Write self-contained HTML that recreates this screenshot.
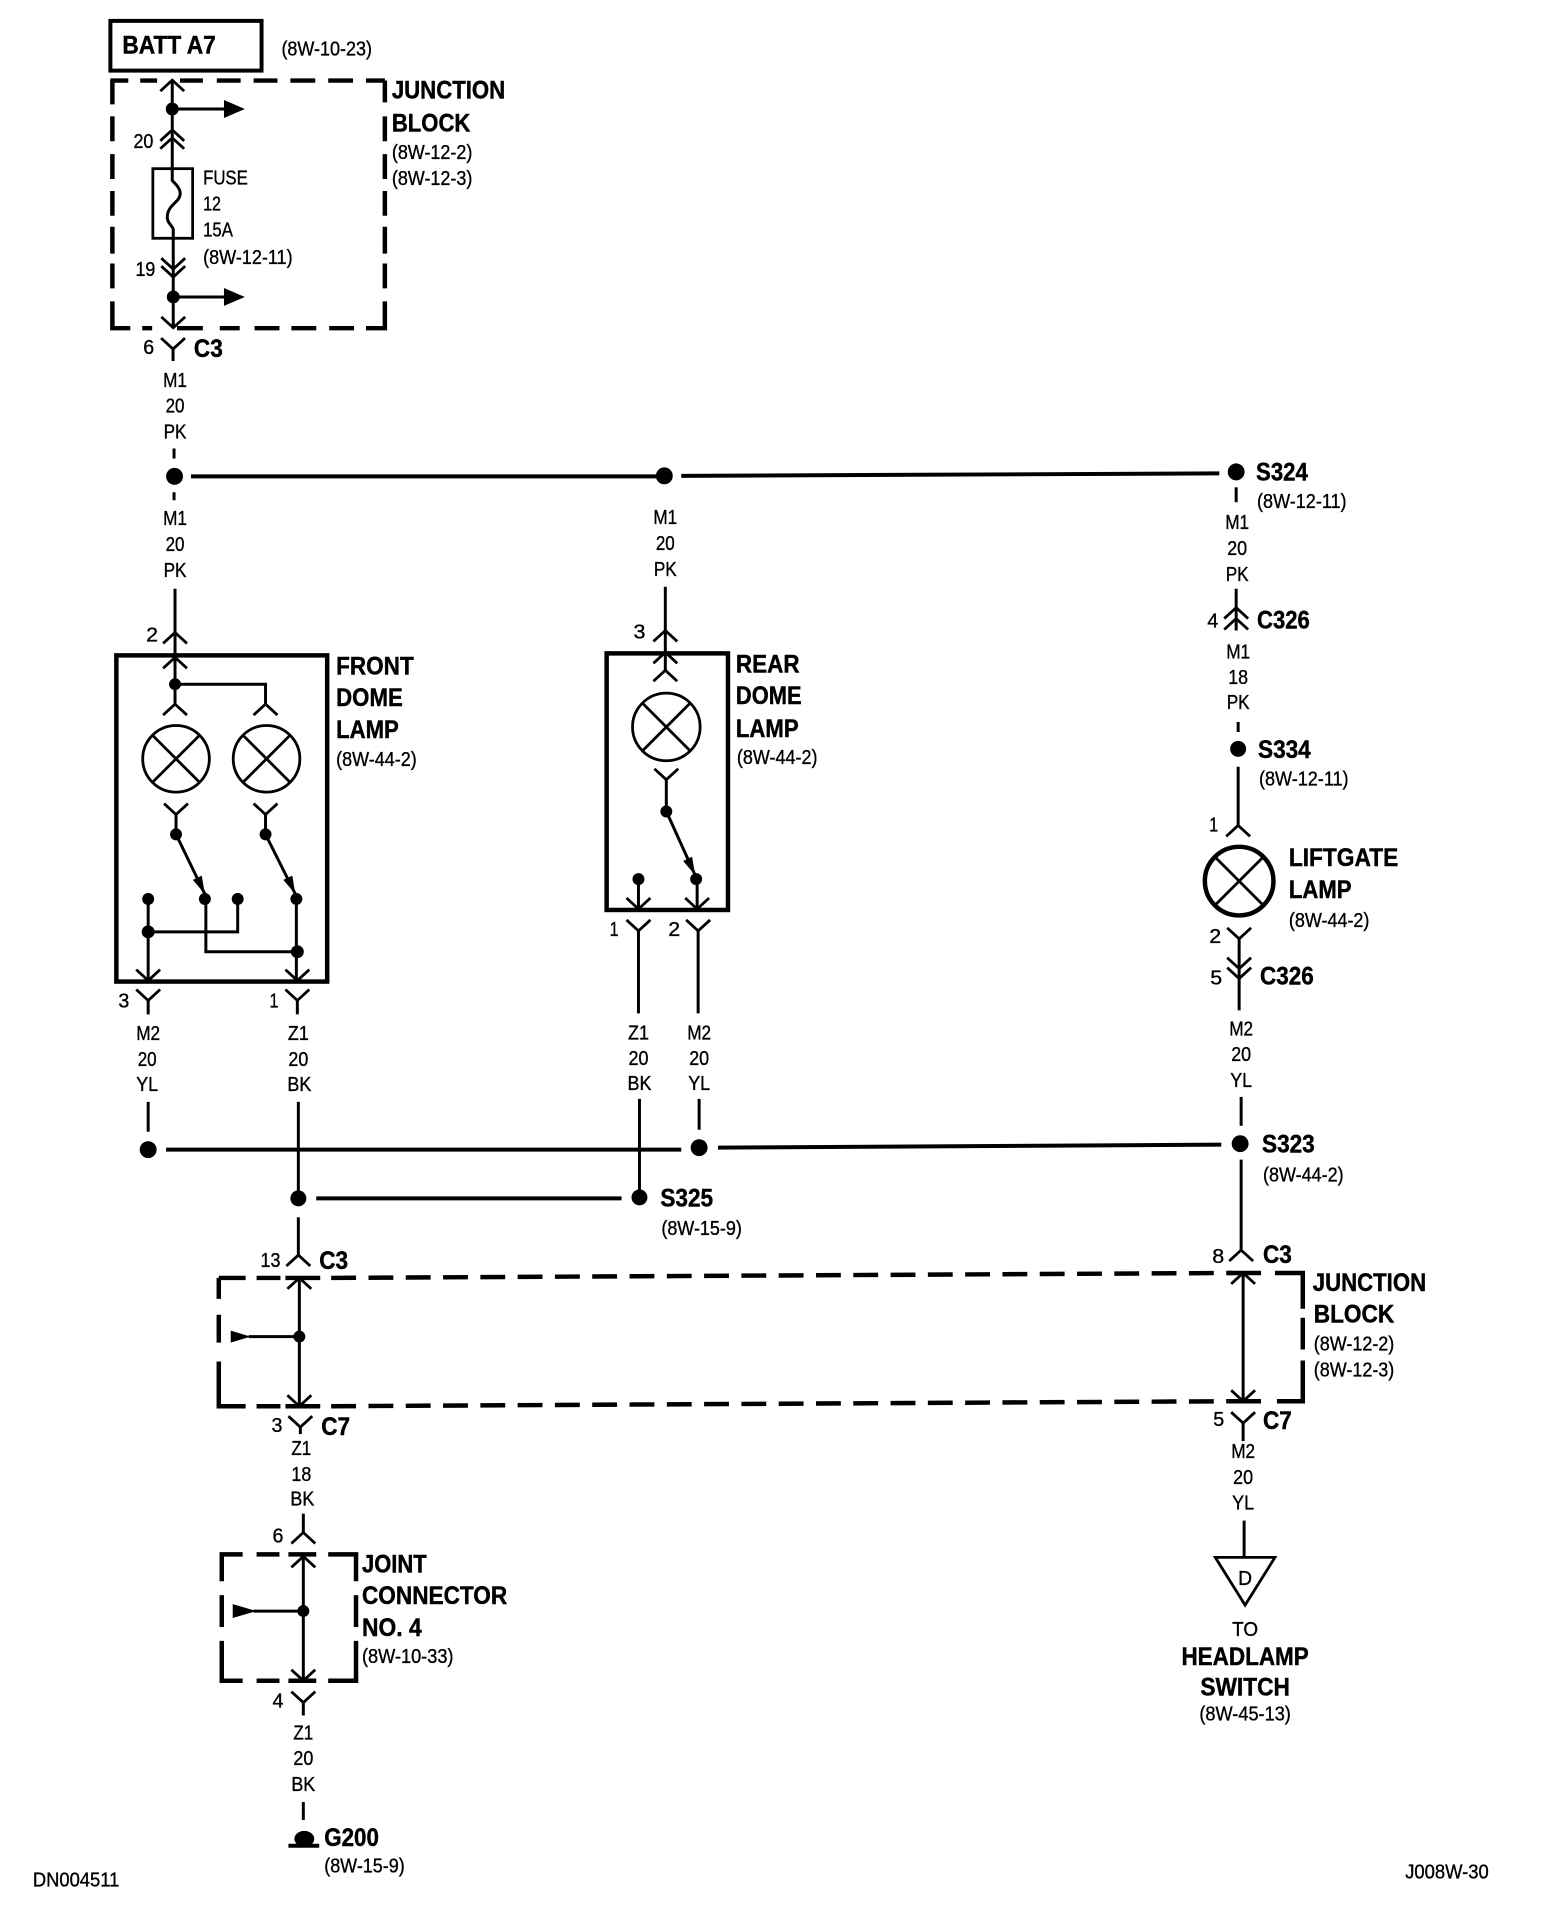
<!DOCTYPE html>
<html><head><meta charset="utf-8"><style>
html,body{margin:0;padding:0;background:#fff}
svg{display:block}
text{font-family:"Liberation Sans",sans-serif;fill:#000}
.r{font-size:20px;stroke:#000;stroke-width:.35}
.b{font-size:25px;font-weight:bold;stroke:#000;stroke-width:.45}
.m{text-anchor:middle}
.w{fill:none;stroke:#000;stroke-width:3}
.d{fill:none;stroke:#000;stroke-width:4.5}
.t{fill:none;stroke:#000;stroke-width:4.5}
.c{fill:none;stroke:#000;stroke-width:2.8}
</style></head><body>
<svg width="1568" height="1918" viewBox="0 0 1568 1918" xmlns="http://www.w3.org/2000/svg">
<defs>
<path id="up" class="c" d="M-12 11L0 0L12 11"/>
<path id="dn" class="c" d="M-12 -11L0 0L12 -11"/>
</defs>
<rect width="1568" height="1918" fill="#fff"/>
<g transform="scale(.9945)">

<!-- BATT -->
<rect x="111" y="21" width="152" height="50" fill="none" stroke="#000" stroke-width="4"/>
<text class="b" x="123" y="54" textLength="94" lengthAdjust="spacingAndGlyphs">BATT A7</text>
<text class="r" x="283" y="56" textLength="91" lengthAdjust="spacingAndGlyphs">(8W-10-23)</text>

<!-- top junction block -->
<path class="d" d="M111 81H387" stroke-dasharray="18 12 17 23 23 14 24 13 24 13 25 13 25 13 21"/>
<path class="d" d="M113 81V105M113 117V142M113 155V180M113 192V217M113 228V255M113 265V290M113 303V330H131M143 330H153M178 330H204M221 330H241M256 330H281M293 330H318M331 330H356M368 330H387V303M387 290V265M387 255V228M387 217V192M387 180V155M387 142V117M387 103V81"/>
<text class="b" x="394" y="99" textLength="114" lengthAdjust="spacingAndGlyphs">JUNCTION</text>
<text class="b" x="394" y="132" textLength="79" lengthAdjust="spacingAndGlyphs">BLOCK</text>
<text class="r" x="394" y="160" textLength="81" lengthAdjust="spacingAndGlyphs">(8W-12-2)</text>
<text class="r" x="394" y="186" textLength="81" lengthAdjust="spacingAndGlyphs">(8W-12-3)</text>

<g transform="translate(1.2 .6)">
<path class="w" d="M172 80V169"/>
<use href="#up" x="172" y="80"/><use href="#up" x="172" y="130"/><use href="#up" x="172" y="138"/>
<circle cx="172" cy="109" r="6.5"/>
<path class="w" d="M172 109H226"/><path d="M224 100L245 109L224 118Z"/>
<text class="r" x="133" y="148" textLength="20" lengthAdjust="spacingAndGlyphs">20</text>
<rect x="152.500" y="169" width="40" height="70" fill="none" stroke="#000" stroke-width="2.8"/>
<path class="w" d="M172 169V181C176 185 180 189 180 194C180 203 167 205 167 218C167 224 172 226 173 230V239"/>
<path class="w" d="M173 239V329"/>
<use href="#dn" x="173" y="270"/><use href="#dn" x="173" y="278"/>
<circle cx="173" cy="298" r="6.5"/>
<path class="w" d="M173 298H226"/><path d="M224 289L245 298L224 307Z"/>
<use href="#dn" x="173" y="329"/>
<text class="r" x="135" y="277" textLength="20" lengthAdjust="spacingAndGlyphs">19</text>
<text class="r" x="203" y="185" textLength="45" lengthAdjust="spacingAndGlyphs">FUSE</text>
<text class="r" x="203" y="211" textLength="18" lengthAdjust="spacingAndGlyphs">12</text>
<text class="r" x="203" y="237" textLength="30" lengthAdjust="spacingAndGlyphs">15A</text>
<text class="r" x="203" y="265" textLength="90" lengthAdjust="spacingAndGlyphs">(8W-12-11)</text>
</g>

<!-- C3 / M1 -->
<use href="#dn" x="174" y="351"/><path class="w" d="M174 351V363"/>
<text class="r" x="144" y="356" textLength="11" lengthAdjust="spacingAndGlyphs">6</text>
<text class="b" x="195" y="359" textLength="29" lengthAdjust="spacingAndGlyphs">C3</text>
<text class="r m" x="176" y="389" textLength="24" lengthAdjust="spacingAndGlyphs">M1</text>
<text class="r m" x="176" y="415" textLength="19" lengthAdjust="spacingAndGlyphs">20</text>
<text class="r m" x="176" y="441" textLength="23" lengthAdjust="spacingAndGlyphs">PK</text>
<path class="w" d="M175 451V461M175 495V503"/>
<circle cx="175.500" cy="479" r="8.5"/>
<path d="M192 477H668V481H192Z"/>
<circle cx="668" cy="478.500" r="8.500"/>
<path d="M685 476.500L1226 474V478L685 480.500Z"/>
<circle cx="1243" cy="474.500" r="8.5"/>
<path class="w" d="M1243 490V505"/>
<text class="b" x="1263" y="483" textLength="52" lengthAdjust="spacingAndGlyphs">S324</text>
<text class="r" x="1264" y="511" textLength="90" lengthAdjust="spacingAndGlyphs">(8W-12-11)</text>

<text class="r m" x="176" y="528" textLength="24" lengthAdjust="spacingAndGlyphs">M1</text>
<text class="r m" x="176" y="554" textLength="19" lengthAdjust="spacingAndGlyphs">20</text>
<text class="r m" x="176" y="580" textLength="23" lengthAdjust="spacingAndGlyphs">PK</text>
<text class="r m" x="669" y="527" textLength="24" lengthAdjust="spacingAndGlyphs">M1</text>
<text class="r m" x="669" y="553" textLength="19" lengthAdjust="spacingAndGlyphs">20</text>
<text class="r m" x="669" y="579" textLength="23" lengthAdjust="spacingAndGlyphs">PK</text>

<!-- Front dome lamp -->
<path class="w" d="M176 592V708"/>
<use href="#up" x="176" y="636"/>
<text class="r" x="147" y="645" textLength="12" lengthAdjust="spacingAndGlyphs">2</text>
<rect x="117" y="659" width="212" height="328" class="t"/>
<use href="#up" x="176" y="661"/>
<circle cx="176" cy="688" r="6"/>
<path class="w" d="M176 688H267V708"/>
<use href="#up" x="176" y="708"/><use href="#up" x="267" y="708"/>
<g class="c"><circle cx="177" cy="763" r="33.500"/><path d="M153 739L201 787M201 739L153 787"/>
<circle cx="268" cy="763" r="33.500"/><path d="M244 739L292 787M292 739L244 787"/></g>
<use href="#dn" x="177" y="819"/><use href="#dn" x="267" y="819"/>
<path class="w" d="M177 819V839M267 819V839"/>
<circle cx="177" cy="839" r="6"/><circle cx="267" cy="839" r="6"/>
<path class="w" d="M178 841L206 899M268 841L297 899"/>
<path d="M206 899L202.900 880.500L193.900 884.700Z"/><path d="M297 899L293.900 880.500L284.900 884.700Z"/>
<circle cx="149" cy="904" r="6"/><circle cx="206" cy="904" r="6"/><circle cx="239" cy="904" r="6"/><circle cx="298" cy="904" r="6"/>
<path class="w" d="M149 904V986M149 937H239V904M207 904V957H298M298 904V986"/>
<circle cx="149" cy="937" r="6.500"/><circle cx="299" cy="957" r="6.500"/>
<use href="#dn" x="149" y="986"/><use href="#dn" x="299" y="986"/>
<use href="#dn" x="149" y="1006"/><use href="#dn" x="299" y="1006"/>
<path class="w" d="M149 1006V1020M299 1006V1020"/>
<text class="r" x="119" y="1013" textLength="11" lengthAdjust="spacingAndGlyphs">3</text>
<text class="r" x="271" y="1013" textLength="9" lengthAdjust="spacingAndGlyphs">1</text>
<text class="b" x="338" y="678" textLength="78" lengthAdjust="spacingAndGlyphs">FRONT</text>
<text class="b" x="338" y="710" textLength="67" lengthAdjust="spacingAndGlyphs">DOME</text>
<text class="b" x="338" y="742" textLength="63" lengthAdjust="spacingAndGlyphs">LAMP</text>
<text class="r" x="338" y="770" textLength="81" lengthAdjust="spacingAndGlyphs">(8W-44-2)</text>
<text class="r m" x="149" y="1046" textLength="24" lengthAdjust="spacingAndGlyphs">M2</text>
<text class="r m" x="148" y="1072" textLength="19" lengthAdjust="spacingAndGlyphs">20</text>
<text class="r m" x="148" y="1097" textLength="22" lengthAdjust="spacingAndGlyphs">YL</text>
<text class="r m" x="300" y="1046" textLength="21" lengthAdjust="spacingAndGlyphs">Z1</text>
<text class="r m" x="300" y="1072" textLength="20" lengthAdjust="spacingAndGlyphs">20</text>
<text class="r m" x="301" y="1097" textLength="24" lengthAdjust="spacingAndGlyphs">BK</text>
<path class="w" d="M149 1108V1138M300 1108V1205"/>

<!-- Rear dome lamp -->
<path class="w" d="M669 590V674"/>
<use href="#up" x="669" y="634"/>
<text class="r" x="637" y="642" textLength="12" lengthAdjust="spacingAndGlyphs">3</text>
<rect x="610" y="657" width="122" height="258" class="t"/>
<use href="#up" x="669" y="656"/><use href="#up" x="669" y="674"/>
<g class="c"><circle cx="670" cy="731" r="34"/><path d="M646 707L694 755M694 707L646 755"/></g>
<use href="#dn" x="670" y="784"/>
<path class="w" d="M670 784V816"/>
<circle cx="670" cy="816" r="6"/>
<path class="w" d="M671 818L699 880"/><path d="M699 880L695.900 861.500L686.900 865.700Z"/>
<circle cx="642" cy="884" r="6"/><circle cx="700" cy="884" r="6"/>
<path class="w" d="M642 884V914M701 884V914"/>
<use href="#dn" x="642" y="914"/><use href="#dn" x="701" y="914"/>
<use href="#dn" x="642" y="936"/><use href="#dn" x="702" y="936"/>
<path class="w" d="M642 936V1019M702 936V1019"/>
<text class="r" x="613" y="941" textLength="9" lengthAdjust="spacingAndGlyphs">1</text>
<text class="r" x="672" y="941" textLength="12" lengthAdjust="spacingAndGlyphs">2</text>
<text class="b" x="740" y="676" textLength="64" lengthAdjust="spacingAndGlyphs">REAR</text>
<text class="b" x="740" y="708" textLength="66" lengthAdjust="spacingAndGlyphs">DOME</text>
<text class="b" x="740" y="741" textLength="63" lengthAdjust="spacingAndGlyphs">LAMP</text>
<text class="r" x="741" y="768" textLength="81" lengthAdjust="spacingAndGlyphs">(8W-44-2)</text>
<text class="r m" x="642" y="1045" textLength="21" lengthAdjust="spacingAndGlyphs">Z1</text>
<text class="r m" x="642" y="1071" textLength="20" lengthAdjust="spacingAndGlyphs">20</text>
<text class="r m" x="643" y="1096" textLength="24" lengthAdjust="spacingAndGlyphs">BK</text>
<text class="r m" x="703" y="1045" textLength="24" lengthAdjust="spacingAndGlyphs">M2</text>
<text class="r m" x="703" y="1071" textLength="20" lengthAdjust="spacingAndGlyphs">20</text>
<text class="r m" x="703" y="1096" textLength="22" lengthAdjust="spacingAndGlyphs">YL</text>
<path class="w" d="M643 1105V1205M703 1105V1136"/>

<!-- mid bus -->
<circle cx="149" cy="1156" r="8.500"/>
<path d="M167 1154H685V1158H167Z"/>
<circle cx="703" cy="1154" r="8.500"/>
<path d="M722 1152L1228 1149V1153L722 1156Z"/>
<circle cx="1247" cy="1150" r="8.500"/>
<circle cx="300" cy="1205" r="8"/>
<path d="M318 1203H625V1207H318Z"/>
<circle cx="643" cy="1204" r="8"/>
<text class="b" x="664" y="1213" textLength="53" lengthAdjust="spacingAndGlyphs">S325</text>
<text class="r" x="665" y="1242" textLength="81" lengthAdjust="spacingAndGlyphs">(8W-15-9)</text>

<!-- right column -->
<text class="r m" x="1244" y="532" textLength="24" lengthAdjust="spacingAndGlyphs">M1</text>
<text class="r m" x="1244" y="558" textLength="20" lengthAdjust="spacingAndGlyphs">20</text>
<text class="r m" x="1244" y="584" textLength="23" lengthAdjust="spacingAndGlyphs">PK</text>
<path class="w" d="M1243 592V634"/>
<use href="#up" x="1243" y="611"/><use href="#up" x="1243" y="622"/>
<text class="r" x="1214" y="631" textLength="11" lengthAdjust="spacingAndGlyphs">4</text>
<text class="b" x="1264" y="632" textLength="53" lengthAdjust="spacingAndGlyphs">C326</text>
<text class="r m" x="1245" y="662" textLength="24" lengthAdjust="spacingAndGlyphs">M1</text>
<text class="r m" x="1245" y="688" textLength="20" lengthAdjust="spacingAndGlyphs">18</text>
<text class="r m" x="1245" y="713" textLength="23" lengthAdjust="spacingAndGlyphs">PK</text>
<path class="w" d="M1245 726V736"/>
<circle cx="1245" cy="753" r="8"/>
<text class="b" x="1265" y="762" textLength="53" lengthAdjust="spacingAndGlyphs">S334</text>
<text class="r" x="1266" y="790" textLength="90" lengthAdjust="spacingAndGlyphs">(8W-12-11)</text>
<path class="w" d="M1245 771V830"/>
<use href="#up" x="1245" y="830"/>
<text class="r" x="1216" y="836" textLength="9" lengthAdjust="spacingAndGlyphs">1</text>
<g fill="none" stroke="#000"><circle cx="1246" cy="886" r="34.500" stroke-width="4.500"/><path d="M1222 862L1270 910M1270 862L1222 910" stroke-width="2.800"/></g>
<text class="b" x="1296" y="871" textLength="110" lengthAdjust="spacingAndGlyphs">LIFTGATE</text>
<text class="b" x="1296" y="903" textLength="63" lengthAdjust="spacingAndGlyphs">LAMP</text>
<text class="r" x="1296" y="932" textLength="81" lengthAdjust="spacingAndGlyphs">(8W-44-2)</text>
<use href="#dn" x="1246" y="944"/>
<path class="w" d="M1246 944V1016"/>
<use href="#dn" x="1246" y="974"/><use href="#dn" x="1246" y="984"/>
<text class="r" x="1216" y="948" textLength="12" lengthAdjust="spacingAndGlyphs">2</text>
<text class="r" x="1217" y="990" textLength="12" lengthAdjust="spacingAndGlyphs">5</text>
<text class="b" x="1267" y="990" textLength="54" lengthAdjust="spacingAndGlyphs">C326</text>
<text class="r m" x="1248" y="1041" textLength="24" lengthAdjust="spacingAndGlyphs">M2</text>
<text class="r m" x="1248" y="1067" textLength="20" lengthAdjust="spacingAndGlyphs">20</text>
<text class="r m" x="1248" y="1093" textLength="22" lengthAdjust="spacingAndGlyphs">YL</text>
<path class="w" d="M1248 1103V1132"/>
<text class="b" x="1269" y="1159" textLength="53" lengthAdjust="spacingAndGlyphs">S323</text>
<text class="r" x="1270" y="1188" textLength="81" lengthAdjust="spacingAndGlyphs">(8W-44-2)</text>
<path class="w" d="M1248 1166V1257"/>
<use href="#up" x="1248" y="1257"/>
<text class="r" x="1219" y="1270" textLength="12" lengthAdjust="spacingAndGlyphs">8</text>
<text class="b" x="1270" y="1270" textLength="29" lengthAdjust="spacingAndGlyphs">C3</text>

<!-- long junction block -->
<path class="d" d="M220 1285H247M258 1285H282M287 1285H322" />
<path class="d" d="M333 1285L1240 1280" stroke-dasharray="25 12.500"/>
<path class="d" d="M1235 1280H1268M1282 1280H1310V1316M1310 1325V1357M1310 1368V1409H1284M1268 1409H1235"/>
<path class="d" d="M333 1414L1235 1409" stroke-dasharray="25 12.500"/>
<path class="d" d="M220 1285V1306M220 1322V1350M220 1369V1414H247M258 1414H282M287 1414H322"/>
<path class="w" d="M301 1285V1414M1250 1280V1409"/>
<use href="#up" x="301" y="1285"/><use href="#up" x="1250" y="1280"/>
<use href="#dn" x="301" y="1414"/><use href="#dn" x="1250" y="1409"/>
<circle cx="301" cy="1344" r="6"/>
<path class="w" d="M301 1344H250"/><path d="M232 1338L252 1344L232 1350Z"/>
<use href="#up" x="300" y="1262"/>
<path class="w" d="M300 1224V1262"/>
<text class="r" x="262" y="1274" textLength="20" lengthAdjust="spacingAndGlyphs">13</text>
<text class="b" x="321" y="1276" textLength="29" lengthAdjust="spacingAndGlyphs">C3</text>
<text class="b" x="1320" y="1298" textLength="114" lengthAdjust="spacingAndGlyphs">JUNCTION</text>
<text class="b" x="1321" y="1330" textLength="81" lengthAdjust="spacingAndGlyphs">BLOCK</text>
<text class="r" x="1321" y="1358" textLength="81" lengthAdjust="spacingAndGlyphs">(8W-12-2)</text>
<text class="r" x="1321" y="1384" textLength="81" lengthAdjust="spacingAndGlyphs">(8W-12-3)</text>

<!-- C7 left -->
<use href="#dn" x="302" y="1435"/><path class="w" d="M302 1435V1442"/>
<text class="r" x="273" y="1440" textLength="11" lengthAdjust="spacingAndGlyphs">3</text>
<text class="b" x="323" y="1443" textLength="29" lengthAdjust="spacingAndGlyphs">C7</text>
<text class="r m" x="303" y="1463" textLength="20" lengthAdjust="spacingAndGlyphs">Z1</text>
<text class="r m" x="303" y="1489" textLength="20" lengthAdjust="spacingAndGlyphs">18</text>
<text class="r m" x="304" y="1514" textLength="24" lengthAdjust="spacingAndGlyphs">BK</text>
<path class="w" d="M305 1522V1541"/>
<use href="#up" x="305" y="1541"/>
<text class="r" x="274" y="1551" textLength="11" lengthAdjust="spacingAndGlyphs">6</text>

<!-- joint connector -->
<path class="d" d="M244 1563H223V1590M223 1604V1636M223 1650V1690H244M258 1563H281M290 1563H318M330 1563H358V1590M358 1604V1636M358 1650V1690H330M318 1690H290M281 1690H258"/>
<path class="w" d="M305 1565V1690"/>
<use href="#up" x="305" y="1565"/><use href="#dn" x="305" y="1690"/>
<circle cx="305" cy="1620" r="6"/>
<path class="w" d="M305 1620H255"/><path d="M234 1613L258 1620L234 1627Z"/>
<text class="b" x="364" y="1581" textLength="65" lengthAdjust="spacingAndGlyphs">JOINT</text>
<text class="b" x="364" y="1613" textLength="146" lengthAdjust="spacingAndGlyphs">CONNECTOR</text>
<text class="b" x="364" y="1645" textLength="60" lengthAdjust="spacingAndGlyphs">NO. 4</text>
<text class="r" x="364" y="1672" textLength="92" lengthAdjust="spacingAndGlyphs">(8W-10-33)</text>
<use href="#dn" x="305" y="1712"/><path class="w" d="M305 1712V1725"/>
<text class="r" x="274" y="1717" textLength="11" lengthAdjust="spacingAndGlyphs">4</text>
<text class="r m" x="305" y="1749" textLength="20" lengthAdjust="spacingAndGlyphs">Z1</text>
<text class="r m" x="305" y="1775" textLength="20" lengthAdjust="spacingAndGlyphs">20</text>
<text class="r m" x="305" y="1801" textLength="24" lengthAdjust="spacingAndGlyphs">BK</text>
<path class="w" d="M305 1812V1830"/>
<ellipse cx="306" cy="1849" rx="10" ry="8"/>
<path d="M290 1854H321V1858H290Z"/>
<text class="b" x="326" y="1856" textLength="55" lengthAdjust="spacingAndGlyphs">G200</text>
<text class="r" x="326" y="1883" textLength="81" lengthAdjust="spacingAndGlyphs">(8W-15-9)</text>

<!-- C7 right -->
<use href="#dn" x="1250" y="1431"/><path class="w" d="M1250 1431V1449"/>
<text class="r" x="1220" y="1434" textLength="11" lengthAdjust="spacingAndGlyphs">5</text>
<text class="b" x="1270" y="1437" textLength="29" lengthAdjust="spacingAndGlyphs">C7</text>
<text class="r m" x="1250" y="1466" textLength="24" lengthAdjust="spacingAndGlyphs">M2</text>
<text class="r m" x="1250" y="1492" textLength="20" lengthAdjust="spacingAndGlyphs">20</text>
<text class="r m" x="1250" y="1518" textLength="22" lengthAdjust="spacingAndGlyphs">YL</text>
<path class="w" d="M1251 1529V1566"/>
<path d="M1222 1566H1282L1252 1614Z" fill="none" stroke="#000" stroke-width="2.800"/>
<text class="r m" x="1252" y="1594" textLength="14" lengthAdjust="spacingAndGlyphs">D</text>
<text class="r m" x="1252" y="1645" textLength="26" lengthAdjust="spacingAndGlyphs">TO</text>
<text class="b m" x="1252" y="1674" textLength="128" lengthAdjust="spacingAndGlyphs">HEADLAMP</text>
<text class="b m" x="1252" y="1705" textLength="90" lengthAdjust="spacingAndGlyphs">SWITCH</text>
<text class="r m" x="1252" y="1730" textLength="92" lengthAdjust="spacingAndGlyphs">(8W-45-13)</text>

<text class="r" x="33" y="1897" textLength="87" lengthAdjust="spacingAndGlyphs">DN004511</text>
<text class="r" x="1413" y="1889" textLength="84" lengthAdjust="spacingAndGlyphs">J008W-30</text>
</g>
</svg>
</body></html>
